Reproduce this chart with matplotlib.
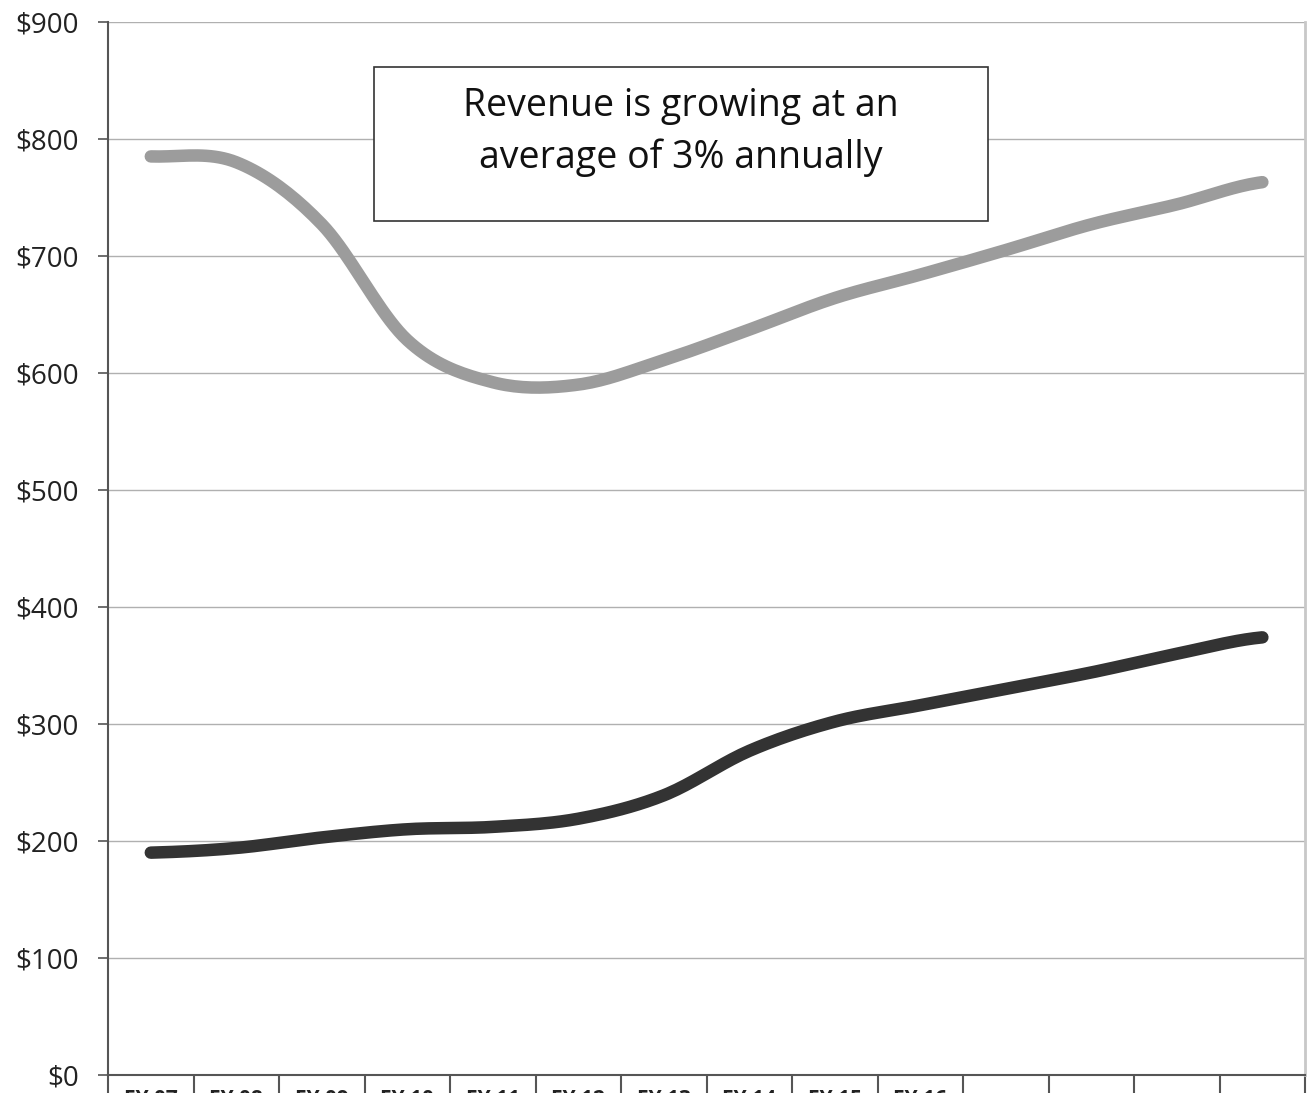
import numpy as np
import matplotlib.pyplot as plt
from matplotlib.patches import Rectangle

plt.rcParams['font.family'] = ['Open Sans', 'DejaVu Sans']

years = ["FY 07", "FY 08", "FY 09", "FY 10", "FY 11", "FY 12", "FY 13",
         "FY 14", "FY 15", "FY 16", "", "", "", ""]
revenue = [785, 780, 727, 628, 592, 590, 611, 637, 664, 684, 705, 727, 744, 763]
other = [190, 194, 203, 210, 212, 219, 239, 277, 302, 316, 330, 344, 360, 374]
yticks = [0, 100, 200, 300, 400, 500, 600, 700, 800, 900]


def smooth(y, n=20):
    # catmull-rom, roughly what the spreadsheet "smoothed line" does
    y = np.asarray(y, float)
    p = np.concatenate([[y[0]], y, [y[-1]]])
    xs, ys = [], []
    for i in range(len(y) - 1):
        p0, p1, p2, p3 = p[i], p[i + 1], p[i + 2], p[i + 3]
        t = np.linspace(0, 1, n, endpoint=False)
        yy = 0.5 * (2 * p1 + (-p0 + p2) * t + (2 * p0 - 5 * p1 + 4 * p2 - p3) * t**2
                    + (-p0 + 3 * p1 - 3 * p2 + p3) * t**3)
        xs.append(i + t)
        ys.append(yy)
    xs.append([len(y) - 1])
    ys.append([y[-1]])
    return np.concatenate(xs), np.concatenate(ys)


fig = plt.figure(figsize=(13.13, 10.93), dpi=100)
ax = fig.add_axes([0.0823, 0.0165, 0.9117, 0.9635])

x = np.arange(len(years))
sx, sy = smooth(revenue)
ax.plot(sx, sy, color="#9c9c9c", lw=9, solid_capstyle="round", zorder=3)
sx, sy = smooth(other)
ax.plot(sx, sy, color="#333333", lw=9, solid_capstyle="round", zorder=3)

ax.set_xlim(-0.5, len(years) - 0.5)
ax.set_ylim(0, 900)
ax.set_yticks(yticks)
ax.set_yticklabels([f"${v}" for v in yticks], fontsize=20, color="#222222")
ax.grid(axis="y", color="#b0b0b0", lw=1)
ax.set_axisbelow(True)

ax.set_xticks(np.arange(-0.5, len(years), 1))
ax.set_xticklabels([])
ax.set_xticks(x, minor=True)
ax.set_xticklabels(years, minor=True, fontsize=15, fontweight="bold", color="#222222")
ax.tick_params(axis="x", which="major", length=15, width=1.5, color="#555555", direction="out")
ax.tick_params(axis="x", which="minor", length=0, pad=10)
ax.tick_params(axis="y", length=7, width=1.2, color="#555555", pad=14)

ax.spines["top"].set_visible(False)
ax.spines["right"].set_color("#c8c8c8")
ax.spines["right"].set_linewidth(2)
ax.spines["left"].set_color("#555555")
ax.spines["left"].set_linewidth(1.5)
ax.spines["bottom"].set_color("#555555")
ax.spines["bottom"].set_linewidth(1.5)

# callout box
ax.add_patch(Rectangle((0.222, 0.811), 0.513, 0.146, transform=ax.transAxes,
                       fc="white", ec="#333333", lw=1.2, zorder=5))
ax.text(0.4785, 0.8955, "Revenue is growing at an\naverage of 3% annually",
        transform=ax.transAxes, ha="center", va="center", fontsize=27,
        linespacing=1.45, color="#111111", zorder=6)

fig.savefig("out.png", dpi=100)
